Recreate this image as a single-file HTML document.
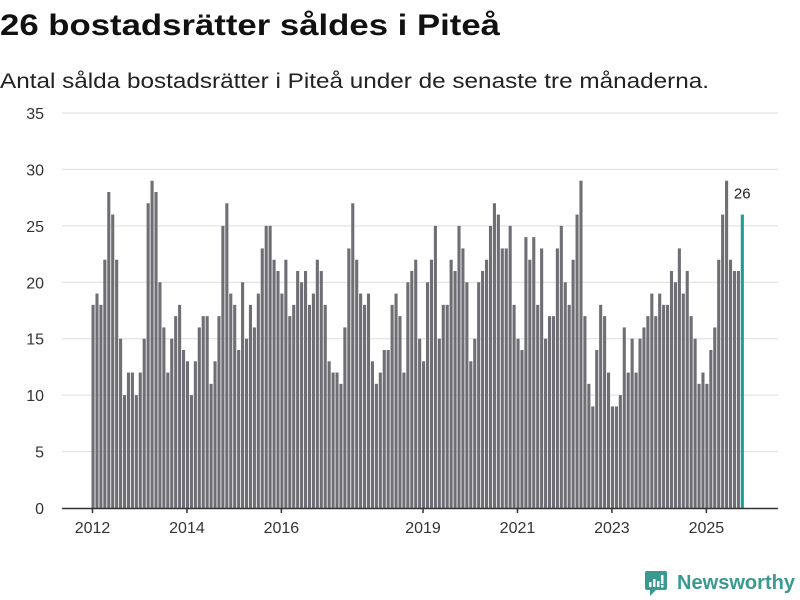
<!DOCTYPE html>
<html><head><meta charset="utf-8">
<style>
body{margin:0;background:#fff;width:800px;height:600px;overflow:hidden;font-family:"Liberation Sans",sans-serif;}
svg{display:block}
</style></head>
<body>
<svg id="chart" width="800" height="600">
<text x="0" y="35" font-size="30" font-weight="bold" fill="#111" textLength="500" lengthAdjust="spacingAndGlyphs">26 bostadsrätter såldes i Piteå</text>
<text x="0" y="88" font-size="21" fill="#222" textLength="709" lengthAdjust="spacingAndGlyphs">Antal sålda bostadsrätter i Piteå under de senaste tre månaderna.</text>
<g id="grid"></g>
<g id="bars"></g>
<g id="xaxis"></g>
<g>
<rect x="645" y="571" width="22" height="19" rx="2" fill="#3a9a8f"/>
<polygon points="650,590 656,590 650,596" fill="#3a9a8f"/>
<rect x="649" y="582" width="2.5" height="5" fill="#fff"/>
<rect x="653" y="579" width="2.5" height="8" fill="#fff"/>
<rect x="657" y="581" width="2.5" height="6" fill="#fff"/>
<rect x="661" y="575" width="2.5" height="9" fill="#fff"/>
<rect x="661" y="585" width="2.5" height="2.5" fill="#fff"/>
<text x="677" y="589" font-size="20" font-weight="bold" fill="#3a9a8f" textLength="118" lengthAdjust="spacingAndGlyphs">Newsworthy</text>
</g>
</svg>
<script>
const values = [18,19,18,22,28,26,22,15,10,12,12,10,12,15,27,29,28,20,16,12,15,17,18,14,13,10,13,16,17,17,11,13,17,
25,27,19,18,14,20,15,18,16,19,23,25,25,22,21,19,22,17,18,21,20,21,18,19,22,21,18,13,12,12,11,16,23,
27,22,19,18,19,13,11,12,14,14,18,19,17,12,20,21,22,15,13,20,22,25,15,18,18,22,21,25,23,20,13,15,20,
21,22,25,27,26,23,23,25,18,15,14,24,22,24,18,23,15,17,17,23,25,20,18,22,26,29,17,11,9,14,18,17,12,
9,9,10,16,12,15,12,15,16,17,19,17,19,18,18,21,20,23,19,21,17,15,11,12,11,14,16,22,26,29,22,21,21,26];
const startYear = 2012;
const yTicks = [0,5,10,15,20,25,30,35];
const xTickYears = [2012,2014,2016,2019,2021,2023,2025];

const NS="http://www.w3.org/2000/svg";
const y0=508, yUnit=(508-113)/35, step=3.935, x0=92;
const yScale=v=>y0-v*yUnit;
const xScale=i=>x0+i*step;
function mk(tag,attrs,parent){const e=document.createElementNS(NS,tag);for(const k in attrs)e.setAttribute(k,attrs[k]);parent.appendChild(e);return e;}
const grid=document.getElementById('grid'), bars=document.getElementById('bars'), xa=document.getElementById('xaxis');
yTicks.forEach(t=>{
  if(t>0){const l=mk('line',{x1:62,x2:778,y1:yScale(t),y2:yScale(t),stroke:'#dddddd','stroke-width':1},grid);
  
  }
  const tx=mk('text',{x:44,y:yScale(t)+6,'text-anchor':'end','font-size':16,fill:'#333'},grid);
  tx.textContent=t;
  
  
});
values.forEach((v,i)=>{
  const last=i===values.length-1;
  const r=mk('rect',{x:xScale(i)-0.5,y:yScale(v),width:3.1,height:v*yUnit,fill:last?'#1a9e96':'#6f6e75'},bars);
  
  
  if(last){const t=mk('text',{x:xScale(i)+1,y:yScale(v)-16,'text-anchor':'middle','font-size':15,fill:'#222'},bars);
  t.textContent=v;
  
  }
});
const ax=mk('line',{x1:62,x2:778,y1:y0+0.5,y2:y0+0.5,stroke:'#333','stroke-width':1.5},xa);


xTickYears.forEach(yr=>{
  const x=xScale((yr-startYear)*12)+0.5;
  const tk=mk('line',{x1:x,x2:x,y1:y0,y2:y0+5,stroke:'#333','stroke-width':1.5},xa);
  
  
  const t=mk('text',{x:x,y:y0+25,'text-anchor':'middle','font-size':16,fill:'#333'},xa);
  t.textContent=yr;
  
  
});
</script>
</body></html>
